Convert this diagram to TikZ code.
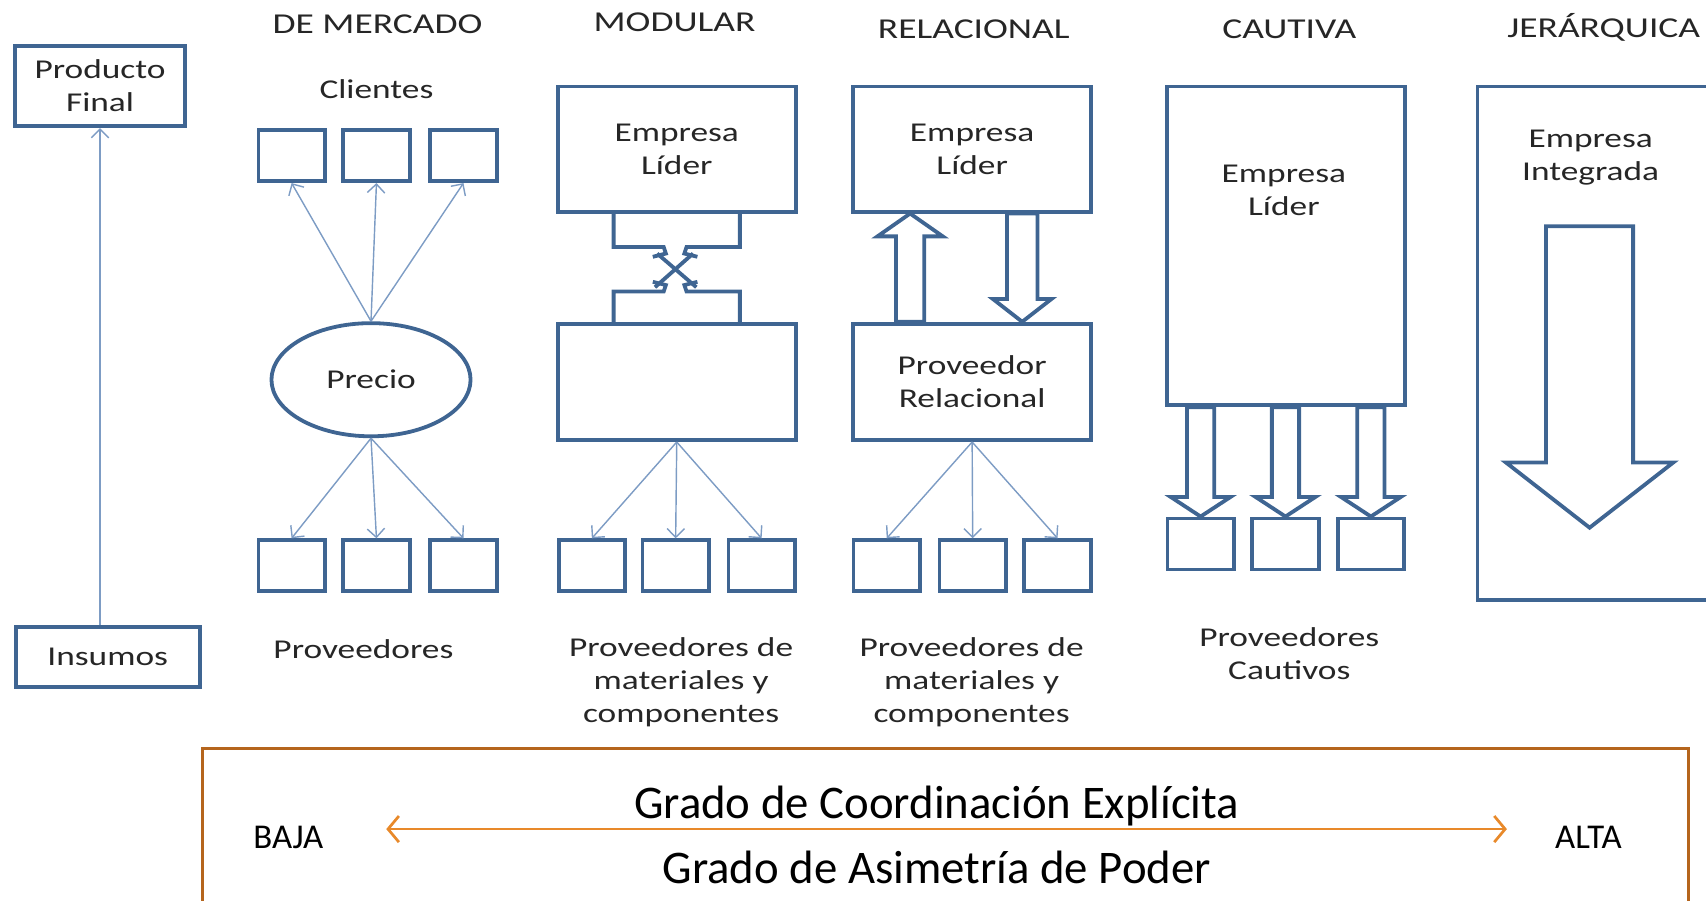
\documentclass[tikz,border=0pt]{standalone}
\usepackage{fontspec}
\setmainfont{Carlito}
\newfontfamily\widefont{Carlito}[FakeStretch=1.3]
\usetikzlibrary{arrows.meta,calc,shapes.geometric}

\definecolor{boxblue}{HTML}{3F6592}
\definecolor{linkblue}{HTML}{7D9CC4}
\definecolor{framebrown}{HTML}{B5651D}
\definecolor{axisorange}{HTML}{E8892A}
\definecolor{inkgray}{HTML}{262626}

\newcommand{\lblfont}{\widefont\fontsize{25pt}{30pt}\selectfont}
\newcommand{\ttlfont}{\widefont\fontsize{26.5pt}{30pt}\selectfont}
\newcommand{\escfont}{\fontsize{43pt}{50pt}\selectfont}
\newcommand{\extfont}{\fontsize{32pt}{36pt}\selectfont}

% hollow block arrow: from, to, shaft half width, head half width, head length
\newcommand{\hollowarrow}[5]{%
  \draw[blockline] let \p1=(#1), \p2=(#2), \n1={ifthenelse(\y2>\y1,1,-1)} in
    ({\x1-#3},\y1) -- ({\x1-#3},{\y2-(\n1)*#5}) -- ({\x1-#4},{\y2-(\n1)*#5}) -- (\x1,\y2)
    -- ({\x1+#4},{\y2-(\n1)*#5}) -- ({\x1+#3},{\y2-(\n1)*#5}) -- ({\x1+#3},\y1) -- cycle;}

\begin{document}
\begin{tikzpicture}[x=1pt, y=-1pt,
    box/.style={draw=boxblue, line width=3.5pt, inner sep=0pt},
    sbox/.style={box, minimum width=61pt, minimum height=47pt},
    lbl/.style={font=\lblfont, text=inkgray, align=center},
    ttl/.style={font=\ttlfont, text=inkgray},
    link/.style={draw=linkblue, line width=1.3pt, -{Straight Barb[length=8pt,width=16pt]}},
    blockline/.style={draw=boxblue, line width=3.5pt},
    axis/.style={draw=axisorange, line width=2.5pt,
      {Straight Barb[length=10pt,width=24pt]}-{Straight Barb[length=10pt,width=24pt]}},
  ]
    % Frame of the slide
    \path[use as bounding box, clip] (0,0) rectangle (1568,828);

    % Value chain on the left
    \node[box, lbl, minimum width=156pt, minimum height=74pt] (producto) at (92,79) {Producto\\Final};
    \node[box, lbl, minimum width=169pt, minimum height=55pt] (insumos) at (99,604) {Insumos};
    \draw[link] (insumos.north -| producto.south) -- (producto.south);

    % Column titles
    \node[ttl] (tmerc) at (347,22) {DE MERCADO};
    \node[ttl] (tmod) at (620,20) {MODULAR};
    \node[ttl] (trel) at (895,27) {RELACIONAL};
    \node[ttl] (tcau) at (1185,27) {CAUTIVA};
    \node[ttl] (tjer) at (1474,25) {JERÁRQUICA};

    % De mercado: price links clients and suppliers
    \node[lbl] (clientes) at (346,82) {Clientes};
    \node[box, ellipse, lbl, minimum width=183pt, minimum height=104pt] (precio) at (341,349) {Precio};
    \foreach \i/\x in {1/268,2/346,3/426} {
      \node[sbox] (cli\i) at (\x,143) {};
      \node[sbox] (pmer\i) at (\x,520) {};
      \draw[link] (precio.north) -- (cli\i.south);
      \draw[link] (precio.south) -- (pmer\i.north);
    }
    \node[lbl] (lmer) at (334,597) {Proveedores};

    % Modular
    \node[box, lbl, minimum width=219pt, minimum height=115pt] (modtop) at (622,137) {Empresa\\Líder};
    \node[box, minimum width=219pt, minimum height=107pt] (modlow) at (622,351) {};
    % crossed hand-over between the two boxes
    \draw[blockline] (564,196) -- (564,227) -- (610,227) -- (612,233) -- (600,236);
    \draw[blockline] (680,196) -- (680,227) -- (631,227) -- (629,233) -- (641,236);
    \draw[blockline] (564,296) -- (564,268) -- (610,268) -- (612,262) -- (600,259);
    \draw[blockline] (680,296) -- (680,268) -- (631,268) -- (629,262) -- (641,259);
    \draw[blockline] (604,233) -- (640,264);
    \draw[blockline] (637,233) -- (602,264);
    \foreach \i/\x in {1/544,2/621,3/700} {
      \node[sbox] (pmod\i) at (\x,520) {};
      \draw[link] (modlow.south) -- (pmod\i.north);
    }
    \node[lbl] (lmod) at (626,627) {Proveedores de\\materiales y\\componentes};

    % Relacional
    \node[box, lbl, minimum width=219pt, minimum height=115pt] (lider2) at (893.5,137) {Empresa\\Líder};
    \node[box, lbl, minimum width=219pt, minimum height=107pt] (prov2) at (893.5,351) {Proveedor\\Relacional};
    \hollowarrow{[xshift=-57pt]prov2.north}{[xshift=-57pt]lider2.south}{13pt}{30pt}{21pt}
    \hollowarrow{[xshift=46pt]lider2.south}{[xshift=46pt]prov2.north}{14pt}{27pt}{21pt}
    \foreach \i/\x in {1/815,2/894,3/972} {
      \node[sbox] (prel\i) at (\x,520) {};
      \draw[link] (prov2.south) -- (prel\i.north);
    }
    \node[lbl] (lrel) at (893,627) {Proveedores de\\materiales y\\componentes};

    % Cautiva
    \node[box, minimum width=219pt, minimum height=293pt] (lider3) at (1182,226) {};
    \node[lbl] (llider3) at (1180,175) {Empresa\\Líder};
    \foreach \i/\x in {1/1103.5,2/1181.5,3/1260} {
      \node[sbox] (pcau\i) at (\x,500) {};
      \hollowarrow{lider3.south -| pcau\i.north}{pcau\i.north}{12.5pt}{27.5pt}{18pt}
    }
    \node[lbl] (lcau) at (1185,601) {Proveedores\\Cautivos};

    % Jerarquica
    \node[box, minimum width=240pt, minimum height=472pt] (jer) at (1478,315.5) {};
    \node[lbl] (ljer) at (1462,145) {Empresa\\Integrada};
    \coordinate (jtop) at (1461,208);
    \coordinate (jtip) at (1461,485);
    \hollowarrow{jtop}{jtip}{40pt}{77pt}{60pt}

    % Coordination and power scale
    \node[draw=framebrown, line width=2.8pt, minimum width=1365pt, minimum height=200pt] (escala) at (869,788) {};
    \node[font=\escfont] (coord) at (861,741) {Grado de Coordinación Explícita};
    \node[font=\escfont] (asim) at (861,797) {Grado de Asimetría de Poder};
    \node[font=\extfont] (baja) at (265,770) {BAJA};
    \node[font=\extfont] (alta) at (1460,770) {ALTA};
    \coordinate (ejeizq) at (355,762);
    \coordinate (ejeder) at (1385,762);
    \draw[axis] (ejeizq) -- (ejeder);
\end{tikzpicture}
\end{document}
